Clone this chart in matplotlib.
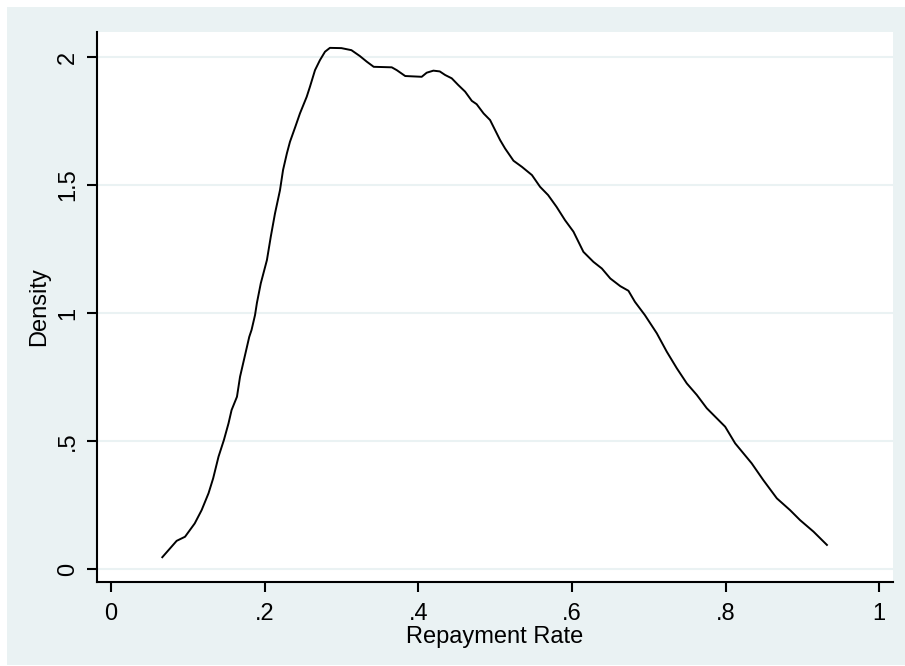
import numpy as np
import matplotlib
matplotlib.use("Agg")
import matplotlib.pyplot as plt
from matplotlib.patches import Rectangle

# kernel density of repayment rate
rate = [0.0668, 0.0855, 0.0964, 0.109, 0.118, 0.127, 0.133, 0.140, 0.147, 0.153,
        0.157, 0.164, 0.168, 0.174, 0.180, 0.183, 0.1875, 0.190, 0.195, 0.203,
        0.208, 0.2135, 0.220, 0.224, 0.229, 0.233, 0.240, 0.246, 0.2548, 0.259,
        0.2656, 0.272, 0.2786, 0.285, 0.300, 0.313, 0.324, 0.333, 0.342, 0.3655,
        0.372, 0.383, 0.4045, 0.411, 0.4197, 0.428, 0.435, 0.4436, 0.452, 0.461,
        0.4697, 0.476, 0.485, 0.4935, 0.500, 0.5065, 0.513, 0.524, 0.535, 0.548,
        0.5586, 0.569, 0.580, 0.591, 0.602, 0.615, 0.628, 0.639, 0.650, 0.663,
        0.6736, 0.682, 0.695, 0.7105, 0.7235, 0.7366, 0.7496, 0.7626, 0.7756, 0.7995,
        0.8125, 0.834, 0.849, 0.8668, 0.884, 0.897, 0.9145, 0.932]
density = [0.046, 0.110, 0.126, 0.178, 0.230, 0.296, 0.354, 0.439, 0.504, 0.569,
           0.621, 0.673, 0.751, 0.829, 0.907, 0.934, 0.992, 1.040, 1.116, 1.207,
           1.298, 1.389, 1.480, 1.559, 1.624, 1.669, 1.728, 1.780, 1.845, 1.884,
           1.949, 1.988, 2.021, 2.036, 2.035, 2.027, 2.004, 1.982, 1.962, 1.960,
           1.949, 1.926, 1.923, 1.939, 1.947, 1.944, 1.930, 1.917, 1.891, 1.865,
           1.829, 1.816, 1.780, 1.754, 1.715, 1.676, 1.643, 1.595, 1.571, 1.539,
           1.493, 1.461, 1.415, 1.363, 1.318, 1.239, 1.200, 1.174, 1.135, 1.105,
           1.087, 1.044, 0.992, 0.921, 0.849, 0.784, 0.725, 0.680, 0.628, 0.556,
           0.491, 0.413, 0.348, 0.276, 0.230, 0.191, 0.146, 0.094]

x_ticks = [0, 0.2, 0.4, 0.6, 0.8, 1]
x_labels = ["0", ".2", ".4", ".6", ".8", "1"]
y_ticks = [0, 0.5, 1, 1.5, 2]
y_labels = ["0", ".5", "1", "1.5", "2"]

bg = "#EAF2F3"
plt.rcParams["font.family"] = ["Liberation Sans", "DejaVu Sans"]

fig = plt.figure(figsize=(9.05, 6.66), dpi=100, facecolor="white")
fig.patches.append(Rectangle((7 / 905, 1 / 666), 1 - 7 / 905, 658 / 666,
                             transform=fig.transFigure, facecolor=bg,
                             edgecolor="none", zorder=-10))

ax = fig.add_axes([97 / 905, 84 / 666, 796 / 905, 550 / 666])
ax.set_facecolor("white")
ax.plot(rate, density, color="black", lw=1.4, zorder=3)

ax.set_xlim(-0.0182, 1.018)
ax.set_ylim(-0.0508, 2.098)
ax.set_xticks(x_ticks)
ax.set_xticklabels(x_labels)
ax.set_yticks(y_ticks)
ax.set_yticklabels(y_labels, rotation=90, va="center")
ax.yaxis.grid(True, color=bg, lw=1.5)
ax.set_axisbelow(True)

for s in ["top", "right"]:
    ax.spines[s].set_visible(False)
for s in ["left", "bottom"]:
    ax.spines[s].set_linewidth(1.5)
ax.tick_params(direction="out", length=7, width=1.5, labelsize=17)
ax.tick_params(axis="x", pad=8)
ax.tick_params(axis="y", pad=6)

ax.set_xlabel("Repayment Rate", fontsize=17, labelpad=1)
ax.set_ylabel("Density", fontsize=17, labelpad=5)

fig.savefig("out.png", dpi=100, facecolor=fig.get_facecolor())
